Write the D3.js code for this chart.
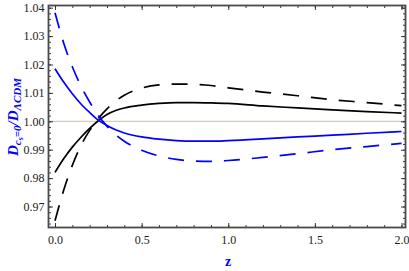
<!DOCTYPE html>
<html>
<head>
<meta charset="utf-8">
<script src="https://cdn.jsdelivr.net/npm/d3@7"></script>
<style>
  body { margin: 0; background: #fff; }
  svg { display: block; }
  text { font-family: "Liberation Serif", "Times New Roman", "DejaVu Serif", serif; }
</style>
</head>
<body>
<div id="chartContainer"></div>
<script>
// data
const z_vals = [0, 0.05, 0.1, 0.15, 0.2, 0.25, 0.3, 0.35, 0.4, 0.5, 0.6, 0.7, 0.8, 0.9, 1.0, 1.2, 1.4, 1.6, 1.8, 2.0];
const black_solid = [0.9820, 0.9868, 0.9909, 0.9944, 0.9975, 1.0002, 1.0024, 1.0038, 1.0047, 1.0057, 1.0063, 1.0066, 1.0066, 1.0065, 1.0063, 1.0054, 1.0047, 1.0040, 1.0034, 1.0029];
const black_dashed = [0.9650, 0.9757, 0.9845, 0.9915, 0.9968, 1.0010, 1.0044, 1.0071, 1.0092, 1.0117, 1.0128, 1.0131, 1.0130, 1.0126, 1.0118, 1.0103, 1.0090, 1.0076, 1.0066, 1.0055];
const blue_solid = [1.0185, 1.0138, 1.0097, 1.0061, 1.0031, 1.0004, 0.9985, 0.9970, 0.9959, 0.9945, 0.9937, 0.9932, 0.9930, 0.9930, 0.9932, 0.9938, 0.9945, 0.9951, 0.9958, 0.9964];
const blue_dashed = [1.0382, 1.0276, 1.0192, 1.0124, 1.0068, 1.0021, 0.9983, 0.9953, 0.9930, 0.9898, 0.9878, 0.9866, 0.9860, 0.9859, 0.9862, 0.9873, 0.9886, 0.9900, 0.9911, 0.9922];

const x_ticks = [0, 0.5, 1.0, 1.5, 2.0];
const x_minor = d3.range(0, 21).map(i => i / 10);
const y_ticks = [0.97, 0.98, 0.99, 1.00, 1.01, 1.02, 1.03, 1.04];
const y_minor = d3.range(482, 521).map(i => i / 500);

// chart properties
const BOX_WIDTH = 409;
const BOX_HEIGHT = 271;
const LEFT = 48.5, RIGHT = 405.5, TOP = 5.5, BOTTOM = 227.5;
const BLUE = "#0000ff";
const SERIF = "'Liberation Serif', 'Times New Roman', serif";

const svg = d3.select("#chartContainer")
    .append("svg")
    .attr("width", BOX_WIDTH)
    .attr("height", BOX_HEIGHT);

const xScale = d3.scaleLinear()
    .domain([-0.0375, 2.023])
    .range([LEFT, RIGHT]);

const yScale = d3.scaleLinear()
    .domain([0.96261, 1.04077])
    .range([BOTTOM, TOP]);

// reference line at 1
svg.append("line")
    .attr("x1", LEFT).attr("x2", RIGHT)
    .attr("y1", yScale(1)).attr("y2", yScale(1))
    .attr("stroke", "#c8bcae")
    .attr("stroke-width", 1);

// curves
const curve_line = d3.line()
    .x(d => xScale(d.x))
    .y(d => yScale(d.y))
    .curve(d3.curveMonotoneX);

const series = [
    { vals: black_solid, color: "#000", dash: null },
    { vals: black_dashed, color: "#000", dash: "16,12" },
    { vals: blue_solid, color: BLUE, dash: null },
    { vals: blue_dashed, color: BLUE, dash: "16,12" }
];

series.forEach(s => {
    svg.append("path")
        .datum(z_vals.map((z, i) => ({ x: z, y: s.vals[i] })))
        .attr("fill", "none")
        .attr("stroke", s.color)
        .attr("stroke-width", 1.7)
        .attr("stroke-dasharray", s.dash)
        .attr("d", curve_line);
});

// axes, ticks pointing inward on all sides
function styleAxis(g) {
    g.attr("font-family", SERIF).attr("font-size", 12);
    g.select(".domain").remove();
    g.selectAll(".tick line").attr("stroke", "#222").attr("stroke-width", 0.9);
    g.selectAll(".tick text").attr("fill", "#222");
}

svg.append("g")
    .attr("transform", `translate(0, ${BOTTOM})`)
    .call(d3.axisBottom(xScale).tickValues(x_ticks).tickFormat(d3.format(".1f")).tickSize(-4.5).tickPadding(8))
    .call(styleAxis);
svg.append("g")
    .attr("transform", `translate(0, ${BOTTOM})`)
    .call(d3.axisBottom(xScale).tickValues(x_minor).tickFormat("").tickSize(-2.5))
    .call(styleAxis);
svg.append("g")
    .attr("transform", `translate(0, ${TOP})`)
    .call(d3.axisTop(xScale).tickValues(x_ticks).tickFormat("").tickSize(-4.5))
    .call(styleAxis);
svg.append("g")
    .attr("transform", `translate(0, ${TOP})`)
    .call(d3.axisTop(xScale).tickValues(x_minor).tickFormat("").tickSize(-2.5))
    .call(styleAxis);

svg.append("g")
    .attr("transform", `translate(${LEFT}, 0)`)
    .call(d3.axisLeft(yScale).tickValues(y_ticks).tickFormat(d3.format(".2f")).tickSize(-4.5).tickPadding(4))
    .call(styleAxis);
svg.append("g")
    .attr("transform", `translate(${LEFT}, 0)`)
    .call(d3.axisLeft(yScale).tickValues(y_minor).tickFormat("").tickSize(-2.5))
    .call(styleAxis);
svg.append("g")
    .attr("transform", `translate(${RIGHT}, 0)`)
    .call(d3.axisRight(yScale).tickValues(y_ticks).tickFormat("").tickSize(-4.5))
    .call(styleAxis);
svg.append("g")
    .attr("transform", `translate(${RIGHT}, 0)`)
    .call(d3.axisRight(yScale).tickValues(y_minor).tickFormat("").tickSize(-2.5))
    .call(styleAxis);

// frame
svg.append("rect")
    .attr("x", LEFT).attr("y", TOP)
    .attr("width", RIGHT - LEFT).attr("height", BOTTOM - TOP)
    .attr("fill", "none")
    .attr("stroke", "#4a4a4a")
    .attr("stroke-width", 1.8);

// axis labels
svg.append("text")
    .attr("x", 228).attr("y", 266)
    .attr("text-anchor", "middle")
    .attr("fill", BLUE)
    .attr("font-family", SERIF)
    .attr("font-weight", "bold")
    .attr("font-size", 14)
    .text("z");

const ylab = svg.append("text")
    .attr("transform", "translate(18, 117) rotate(-90)")
    .attr("text-anchor", "middle")
    .attr("fill", BLUE)
    .attr("font-family", SERIF)
    .attr("font-weight", "bold")
    .attr("font-style", "italic")
    .attr("font-size", 15);
ylab.append("tspan").text("D");
ylab.append("tspan").attr("dy", 3).attr("font-size", 11).text("c");
ylab.append("tspan").attr("dy", 2).attr("font-size", 8).text("s");
ylab.append("tspan").attr("dy", -2).attr("font-size", 11).text("=0");
ylab.append("tspan").attr("dy", -3).text("/D");
ylab.append("tspan").attr("dy", 3).attr("font-size", 11).text("ΛCDM");
</script>
</body>
</html>
